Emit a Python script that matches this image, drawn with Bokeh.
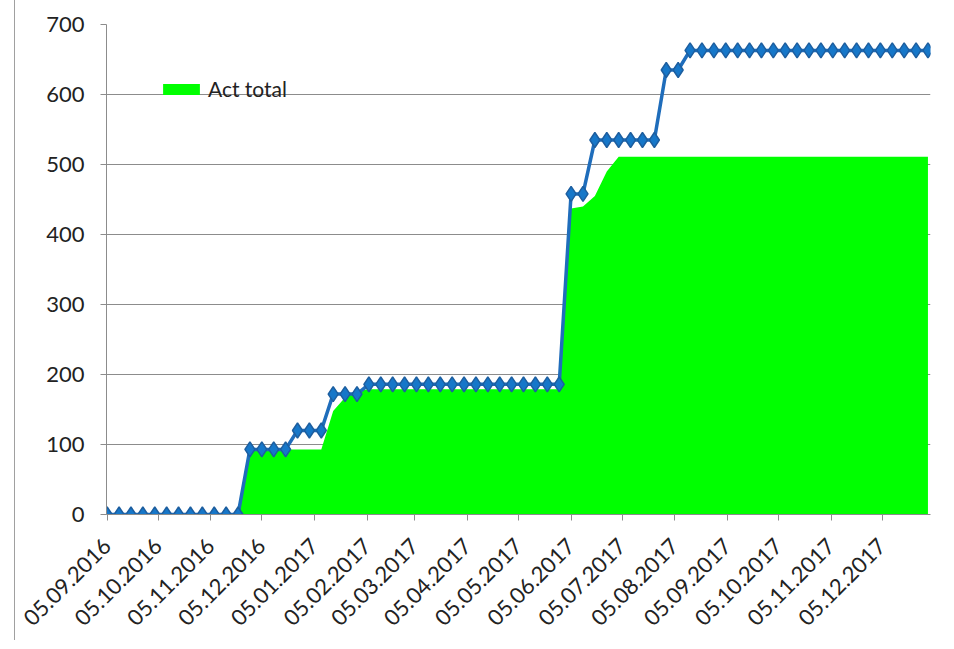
from datetime import datetime, timedelta
from bokeh.plotting import figure
from bokeh.models import ColumnDataSource, Range1d, FixedTicker, DatetimeTickFormatter, Legend, LegendItem
from bokeh.embed import file_html
from bokeh.resources import INLINE
import math

# ---- data ----
start_date = "05.09.2016"
n_weeks = 70
plan_total = ([0] * 12 + [93] * 4 + [120] * 3 + [172] * 3 + [186] * 17
              + [458] * 2 + [535] * 6 + [635] * 2 + [663] * 21)
act_total = ([0] * 12 + [93] * 7 + [148, 167, 176] + [179] * 17
             + [437, 440, 455, 490] + [511] * 27)
tick_labels = ["05.09.2016", "05.10.2016", "05.11.2016", "05.12.2016",
               "05.01.2017", "05.02.2017", "05.03.2017", "05.04.2017",
               "05.05.2017", "05.06.2017", "05.07.2017", "05.08.2017",
               "05.09.2017", "05.10.2017", "05.11.2017", "05.12.2017"]
y_ticks = [0, 100, 200, 300, 400, 500, 600, 700]

d0 = datetime.strptime(start_date, "%d.%m.%Y")
dates = [d0 + timedelta(days=7 * i) for i in range(n_weeks)]
src = ColumnDataSource(dict(x=dates, plan=plan_total, act=act_total,
                            zero=[0] * n_weeks))

def ms(d):
    return (d - datetime(1970, 1, 1)).total_seconds() * 1000.0

FONT = "Lato"
GRID = "#8c8c8c"

p = figure(width=930, height=640, x_axis_type="datetime",
           output_backend="svg", toolbar_location=None,
           min_border_left=91, min_border_right=15,
           min_border_top=24, min_border_bottom=126)
p.x_range = Range1d(ms(d0) - 0.4 * 86400000, ms(dates[-1]) + 1.5 * 86400000)
p.y_range = Range1d(0, 700)
p.outline_line_color = None
p.background_fill_color = "white"

area = p.varea(x="x", y1="zero", y2="act", source=src, fill_color="#00ff00")
p.line(x="x", y="plan", source=src, line_color="#1f6dbb", line_width=3.5)
p.scatter(x="x", y="plan", source=src, marker="diamond", size=15,
          fill_color="#1677c9", line_color="#1d5e9f", line_width=1.5)

# axes
p.xaxis.ticker = FixedTicker(ticks=[ms(datetime.strptime(t, "%d.%m.%Y")) for t in tick_labels])
p.xaxis.formatter = DatetimeTickFormatter(
    milliseconds="%d.%m.%Y", seconds="%d.%m.%Y", minsec="%d.%m.%Y",
    minutes="%d.%m.%Y", hourmin="%d.%m.%Y", hours="%d.%m.%Y",
    days="%d.%m.%Y", months="%d.%m.%Y", years="%d.%m.%Y")
p.xaxis.major_label_orientation = math.pi / 4
p.yaxis.ticker = FixedTicker(ticks=y_ticks)
for ax in (p.xaxis, p.yaxis):
    ax.axis_line_color = GRID
    ax.major_tick_line_color = GRID
    ax.minor_tick_line_color = None
    ax.major_tick_in = 0
    ax.major_tick_out = 6
    ax.major_label_text_font = FONT
    ax.major_label_text_font_size = "22px"
    ax.major_label_text_color = "#222222"
p.xaxis.major_label_standoff = 22
p.yaxis.major_label_standoff = 16

p.xgrid.grid_line_color = None
p.ygrid.grid_line_color = GRID
p.ygrid.grid_line_width = 1
p.ygrid.ticker = FixedTicker(ticks=y_ticks)

legend = Legend(items=[LegendItem(label="Act total", renderers=[area])],
                location=(52, 413), border_line_color=None,
                background_fill_alpha=0, label_text_font=FONT,
                label_text_font_size="21px", label_text_color="#222222",
                glyph_width=46, glyph_height=14, padding=0, margin=0,
                label_standoff=4)
p.add_layout(legend, "center")

p.styles = {"border-left": "1px solid #a0a0a0", "margin-left": "14px"}

open("out.html", "w").write(file_html(p, INLINE))
